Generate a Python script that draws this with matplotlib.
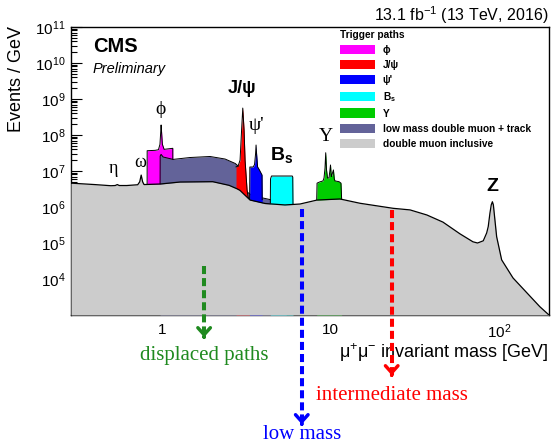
import matplotlib
matplotlib.use('Agg')
import matplotlib.pyplot as plt
import matplotlib.transforms as mtransforms
from matplotlib.patches import Patch
from matplotlib.ticker import FixedLocator, FixedFormatter, LogLocator, NullFormatter
import numpy as np

plt.rcParams['font.family'] = ['Liberation Sans', 'DejaVu Sans']
plt.rcParams['mathtext.fontset'] = 'custom'
plt.rcParams['mathtext.rm'] = 'Liberation Sans'
plt.rcParams['mathtext.it'] = 'Liberation Sans:italic'
plt.rcParams['mathtext.bf'] = 'Liberation Sans:bold'

# ---------------- data (GeV, Events/GeV) ----------------
incl_mass = [0.29, 0.40, 0.50, 0.530, 0.545, 0.560, 0.62, 0.72, 0.74, 0.755, 0.77, 0.785,
             0.98, 1.28, 2.0, 2.5, 2.79, 2.9, 3.1, 3.33, 4.09, 5.36, 6.58, 8.3, 11.35,
             14.9, 23.4, 29.5, 37.1, 46.2, 58.2, 69.5, 74.0, 80.0, 83.8, 85.6, 87.6,
             89.2, 90.6, 91.8, 92.9, 96.0, 102.8, 120.0, 173.0, 196.0]
incl_evts = [4.6e6, 4.2e6, 3.9e6, 3.95e6, 4.2e6, 3.95e6, 3.95e6, 4.15e6, 5.0e6, 7.7e6, 5.0e6, 4.2e6,
             4.35e6, 4.94e6, 5.05e6, 4.0e6, 3.2e6, 2.9e6, 2.15e6, 1.56e6, 1.25e6, 1.14e6, 1.21e6, 1.56e6, 1.67e6,
             1.27e6, 9.2e5, 8.3e5, 6.0e5, 3.8e5, 1.8e5, 1.08e5, 1.0e5, 1.15e5, 1.9e5, 2.85e5, 6.7e5,
             1.15e6, 1.4e6, 1.15e6, 6.7e5, 1.5e5, 3.4e4, 1.07e4, 1.7e3, 1.0e3]

phi_mass = [0.8185, 0.819, 0.913, 0.955, 0.975, 0.985, 0.9905, 0.997, 1.008, 1.032, 1.1616, 1.1625]
phi_evts = [4.2e6, 3.66e7, 3.75e7, 3.9e7, 5.5e7, 1.2e8, 1.9e8, 1.2e8, 5.5e7, 4.0e7, 4.27e7, 4.4e6]

lowmass_mass = [0.977, 0.978, 0.99, 1.018, 1.166, 1.47, 1.93, 2.37, 2.72, 2.83, 2.91, 3.0,
                3.1, 3.2, 3.42, 3.92, 4.68, 5.22, 5.45]
lowmass_evts = [4.35e6, 2.6e7, 2.9e7, 2.45e7, 2.1e7, 2.37e7, 2.53e7, 2.15e7, 1.62e7, 1.38e7, 1.2e7, 8e6,
                4e6, 2.6e6, 2.1e6, 1.8e6, 1.5e6, 1.25e6, 1.1e6]

jpsi_mass = [2.75, 2.83, 2.906, 2.967, 3.015, 3.069, 3.111, 3.154, 3.197, 3.241, 3.30]
jpsi_evts = [1.3e7, 1.38e7, 2.0e7, 1.38e8, 5.6e8, 1.38e8, 2.0e7, 7.7e6, 2.97e6, 1.9e6, 1.56e6]

psi2s_mass = [3.31, 3.32, 3.47, 3.54, 3.59, 3.614, 3.64, 3.69, 3.77, 3.92, 3.93]
psi2s_evts = [1.56e6, 1.29e7, 1.29e7, 1.5e7, 3.0e7, 5.27e7, 3.0e7, 1.3e7, 1.1e7, 7.74e6, 1.6e6]

bs_mass = [4.39, 4.40, 4.46, 5.92, 5.96, 5.98]
bs_evts = [1.3e6, 6.0e6, 7.26e6, 7.26e6, 6.8e6, 1.15e6]

ups_mass = [8.26, 8.30, 8.64, 9.0, 9.125, 9.25, 9.34, 9.44, 9.57, 9.77, 9.88, 9.97,
            10.08, 10.18, 10.375, 10.5, 10.6, 11.2, 11.5, 11.6]
ups_evts = [1.6e6, 4.6e6, 5.0e6, 5.3e6, 6.4e6, 1.2e7, 3.22e7, 1.1e7, 6.4e6, 6.4e6, 1.0e7, 1.47e7,
            7e6, 8e6, 1.07e7, 6e6, 5.3e6, 5.05e6, 4.6e6, 1.7e6]

legend_labels = ['\u03d5', 'J/\u03c8', "\u03c8'", 'B$_\\mathbf{s}$', '\u03a5',
                 'low mass double muon + track', 'double muon inclusive']
colors = ['#ff00ff', '#ff0000', '#0000ff', '#00ffff', '#00cc00', '#636399', '#cccccc']

xtick_values = [1, 10, 100]
xtick_labels = ['1', '10', '10$^{2}$']
ytick_values = [1e4, 1e5, 1e6, 1e7, 1e8, 1e9, 1e10, 1e11]
ytick_labels = ['10$^{%d}$' % k for k in range(4, 12)]

# ---------------- figure ----------------
fig = plt.figure(figsize=(5.53, 4.44), dpi=100)
ax = fig.add_axes([71 / 553, 1 - 315 / 444, 478 / 553, 288 / 444])
ax.set_xscale('log')
ax.set_yscale('log')
ax.set_xlim(0.29, 196)
ax.set_ylim(1e3, 1e11)

series = [(phi_mass, phi_evts, colors[0]),
          (lowmass_mass, lowmass_evts, colors[5]),
          (jpsi_mass, jpsi_evts, colors[1]),
          (psi2s_mass, psi2s_evts, colors[2]),
          (bs_mass, bs_evts, colors[3]),
          (ups_mass, ups_evts, colors[4])]
z = 2
for xs, ys, c in series:
    ax.fill_between(xs, ys, 1e3, color=c, linewidth=0, zorder=z)
    ax.plot(xs, ys, color='black', lw=0.7, zorder=z + 0.5)
    z += 1
ax.fill_between(incl_mass, incl_evts, 1e3, color=colors[6], linewidth=0, zorder=z)
ax.plot(incl_mass, incl_evts, color='black', lw=0.9, zorder=z + 0.5)

# ticks
ax.xaxis.set_major_locator(FixedLocator(xtick_values))
ax.xaxis.set_major_formatter(FixedFormatter(xtick_labels))
ax.xaxis.set_minor_locator(LogLocator(base=10, subs=np.arange(2, 10), numticks=30))
ax.xaxis.set_minor_formatter(NullFormatter())
ax.yaxis.set_major_locator(FixedLocator(ytick_values))
ax.yaxis.set_major_formatter(FixedFormatter(ytick_labels))
ax.yaxis.set_minor_locator(LogLocator(base=10, subs=np.arange(2, 10), numticks=30))
ax.yaxis.set_minor_formatter(NullFormatter())
ax.tick_params(which='both', direction='in', top=False, right=False, width=0.8, labelsize=11)
ax.tick_params(which='major', length=8)
ax.tick_params(which='minor', length=4)
ax.tick_params(axis='x', pad=5.5)
ax.tick_params(axis='y', pad=4)
for s in ax.spines.values():
    s.set_linewidth(1.0)

ax.set_xlabel('\u03bc$^{+}$\u03bc$^{-}$ invariant mass [GeV]', fontsize=13, loc='right')
ax.xaxis.set_label_coords(1.0, -0.131)
ax.xaxis.label.set_verticalalignment('center')
ax.set_ylabel('Events / GeV', fontsize=13)
ax.yaxis.set_label_coords(-0.115, 1.005)
ax.yaxis.label.set_rotation_mode('default')
ax.yaxis.label.set_verticalalignment('top')
ax.yaxis.label.set_horizontalalignment('center')

# CMS texts
ax.text(0.046, 0.931, 'CMS', transform=ax.transAxes, fontsize=14.5, fontweight='bold',
        ha='left', va='center')
ax.text(0.046, 0.854, 'Preliminary', transform=ax.transAxes, fontsize=10.5, fontstyle='italic',
        ha='left', va='center')
ax.text(1.0, 1.042, '13.1 fb$^{-1}$ (13 TeV, 2016)', transform=ax.transAxes, fontsize=11.5,
        ha='right', va='center')

# resonance labels
serif = ['Liberation Serif', 'DejaVu Serif']
ax.text(0.515, 1.21e7, '\u03b7', family=serif, fontsize=13, ha='center', va='center', zorder=20)
ax.text(0.744, 1.67e7, '\u03c9', family=serif, fontsize=13, ha='center', va='center', zorder=20)
ax.text(0.977, 4.95e8, '\u03d5', family=serif, fontsize=14, ha='center', va='center', zorder=20)
ax.text(3.0, 2.02e9, 'J/\u03c8', fontsize=13, fontweight='bold', ha='center', va='center', zorder=20)
ax.text(3.66, 1.78e8, "\u03c8'", family=serif, fontsize=14, ha='center', va='center', zorder=20)
ax.text(5.13, 2.78e7, '$\\mathbf{B_s}$', fontsize=14, ha='center', va='center', zorder=20)
ax.text(9.38, 9.38e7, '\u03a5', family=serif, fontsize=14, ha='center', va='center', zorder=20)
ax.text(90.9, 3.66e6, 'Z', fontsize=14, fontweight='bold', ha='center', va='center', zorder=20)

# legend
handles = [Patch(facecolor=c, edgecolor='none') for c in colors]
leg = ax.legend(handles, legend_labels, title='Trigger paths', loc='upper left',
                bbox_to_anchor=(0.562, 0.99), frameon=False,
                prop={'weight': 'bold', 'size': 7.3},
                title_fontproperties={'weight': 'bold', 'size': 7.3},
                handlelength=3.5, handleheight=1.05, labelspacing=0.48, handletextpad=0.75,
                borderpad=0, borderaxespad=0, alignment='left')
leg.set_zorder(30)

# dashed arrows below the axis
trans = mtransforms.blended_transform_factory(ax.transData, ax.transAxes)
arrows = [(1.78, 0.170, -0.087, '#1f8a1f', 'displaced paths', -0.139),
          (6.74, 0.368, -0.389, '#0000ff', 'low mass', -0.414),
          (22.96, 0.365, -0.219, '#ff0000', 'intermediate mass', -0.278)]
for xv, y0, y1, c, lab, ty in arrows:
    ax.plot([xv, xv], [y0, y1 + 0.01], transform=trans, color=c, lw=2.9,
            dashes=(2.0, 1.0), clip_on=False, zorder=25, solid_capstyle='butt')
    ax.annotate('', xy=(xv, y1), xycoords=trans, xytext=(xv, y1 + 0.02), textcoords=trans,
                arrowprops=dict(arrowstyle='->,head_length=0.5,head_width=0.45', color=c, lw=2.5),
                annotation_clip=False, zorder=25)
    ax.text(xv, ty, lab, transform=trans, color=c, family=serif, fontsize=15,
            ha='center', va='center', clip_on=False)

fig.savefig('out.png', dpi=100)
